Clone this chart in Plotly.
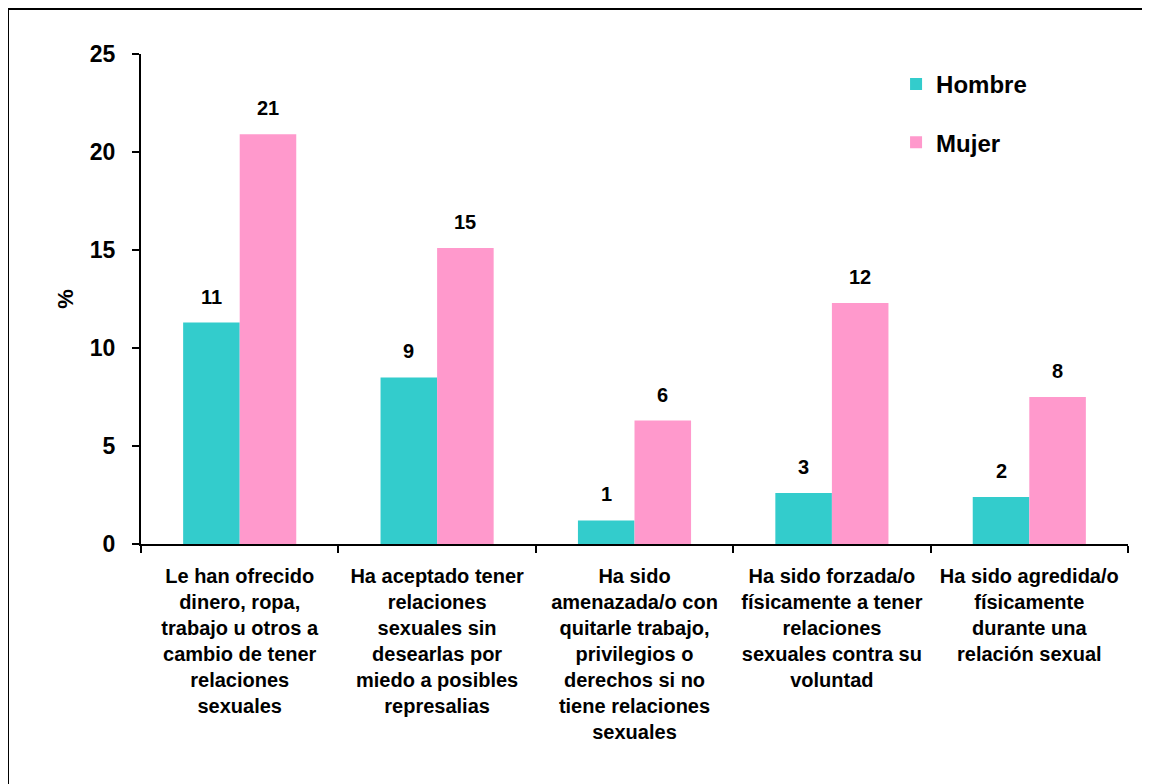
import plotly.graph_objects as go

categories = [
    "Le han ofrecido<br>dinero, ropa,<br>trabajo u otros a<br>cambio de tener<br>relaciones<br>sexuales",
    "Ha aceptado tener<br>relaciones<br>sexuales sin<br>desearlas por<br>miedo a posibles<br>represalias",
    "Ha sido<br>amenazada/o con<br>quitarle trabajo,<br>privilegios o<br>derechos si no<br>tiene relaciones<br>sexuales",
    "Ha sido forzada/o<br>físicamente a tener<br>relaciones<br>sexuales contra su<br>voluntad",
    "Ha sido agredida/o<br>físicamente<br>durante una<br>relación sexual",
]
hombre = [11.3, 8.5, 1.2, 2.6, 2.4]
mujer = [20.9, 15.1, 6.3, 12.3, 7.5]
series_names = ["Hombre", "Mujer"]
colors = ["#33CCCC", "#FF99CC"]
y_ticks = [0, 5, 10, 15, 20, 25]

FONT = "Liberation Sans, Arial, sans-serif"

# layout geometry (figure px; page has 8px body margin)
L, R, T, B = 133, 30, 46, 248
PW = 1150 - L - R
PH = 784 - T - B

fig = go.Figure()
for name, vals, col, grp in zip(series_names, [hombre, mujer], colors, ["g1", "g2"]):
    fig.add_trace(go.Bar(
        x=categories, y=vals, name="<b>%s</b>" % name, marker_color=col,
        marker_line_width=0, legendgroup=grp,
    ))

# data labels
cat_px = PW / len(categories)
bargap = 0.427
bar_w = cat_px * (1 - bargap) / 2
for vals, sign in [(hombre, -1), (mujer, 1)]:
    for c, v in zip(categories, vals):
        fig.add_annotation(
            x=c, y=v, xref="x", yref="y", text="<b>%d</b>" % int(v + 0.5),
            showarrow=False, yanchor="bottom", xshift=sign * bar_w / 2, yshift=13,
            font=dict(family=FONT, size=20, color="black"),
        )

# outer frame
fig.add_shape(type="rect", xref="paper", yref="paper",
              x0=(0 - L) / PW, x1=(1170 - L) / PW,
              y0=(PH - 820) / PH, y1=(PH + T - 1) / PH,
              line=dict(color="black", width=2), layer="below")

fig.update_layout(
    width=1150, height=784,
    margin=dict(l=L, r=R, t=T, b=B),
    paper_bgcolor="white", plot_bgcolor="white",
    barmode="group", bargap=bargap, bargroupgap=0,
    font=dict(family=FONT, color="black"),
    legend=dict(
        x=0.765, y=0.984, xanchor="left", yanchor="top",
        font=dict(family=FONT, size=24, color="black"),
        tracegroupgap=24, traceorder="grouped",
        bgcolor="rgba(0,0,0,0)", itemwidth=30,
    ),
    showlegend=True,
)
fig.update_xaxes(
    type="category", tickson="boundaries", ticks="outside", ticklen=7,
    tickwidth=2, tickcolor="black", showline=True, linecolor="black", linewidth=2,
    tickfont=dict(family=FONT, size=20, color="black"), tickangle=0,
    showgrid=False, ticklabelstandoff=13,
    tickvals=categories, ticktext=["<b>%s</b>" % c for c in categories],
)
fig.update_yaxes(
    range=[0, 25], tickvals=y_ticks, ticktext=["<b>%d</b>" % t for t in y_ticks],
    ticks="outside", ticklen=7, tickwidth=2, tickcolor="black",
    showline=True, linecolor="black", linewidth=2, showgrid=False, zeroline=False,
    tickfont=dict(family=FONT, size=23, color="black"), ticklabelstandoff=12,
    title=dict(text="<b>%</b>", font=dict(family=FONT, size=22, color="black"), standoff=10),
)

fig.write_html("out.html")
